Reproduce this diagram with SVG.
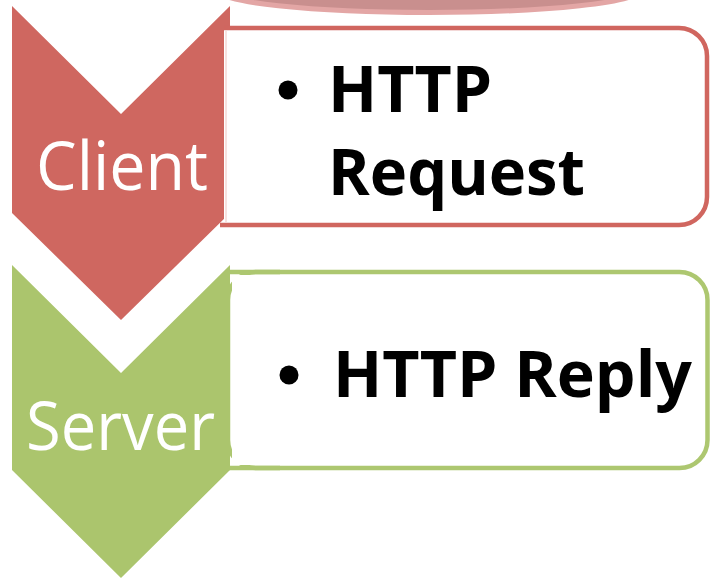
<svg xmlns="http://www.w3.org/2000/svg" width="710" height="578" viewBox="0 0 710 578">
  <style>
    .label { font-family: "Open Sans", "Noto Sans", sans-serif; fill: #ffffff; font-size: 67px; }
    .item { font-family: "Open Sans", "Noto Sans", sans-serif; font-weight: bold; fill: #000000; font-size: 64px; }
    .red { fill: #cf6760; }
    .green { fill: #abc56d; }
    .box { fill: #ffffff; }
  </style>
  <rect width="710" height="578" fill="#ffffff"/>

  <!-- flat ellipse peeking in at the top edge -->
  <g id="top-shape">
    <ellipse cx="429" cy="-10.5" rx="213" ry="23" fill="#c98f8e" stroke="#e3a6a5" stroke-width="5"/>
  </g>

  <!-- client step -->
  <g id="client">
    <path class="red" d="M12,6 L121,114 L230,6 L230,213 L121,320 L12,213 Z"/>
    <text class="label" x="36" y="190" textLength="172" lengthAdjust="spacingAndGlyphs">Client</text>
  </g>
  <g id="client-detail">
    <rect class="box" x="224" y="28" width="484" height="197"/>
    <path d="M224,28 H679 A28,28 0 0 1 707,56 V197 A28,28 0 0 1 679,225 H220" fill="none" stroke="#d0665f" stroke-width="4.5"/>
    <line x1="226" y1="30" x2="226" y2="223" stroke="#f4d8d6" stroke-width="1.5"/>
    <circle cx="288" cy="90" r="9.5" fill="#000000"/>
    <text class="item" x="328" y="112" textLength="164" lengthAdjust="spacingAndGlyphs">HTTP</text>
    <text class="item" x="328" y="195" textLength="257" lengthAdjust="spacingAndGlyphs">Request</text>
  </g>

  <!-- server step -->
  <g id="server-detail">
    <rect class="box" x="228" y="272" width="479.5" height="196" rx="28" ry="28" stroke="#adc770" stroke-width="4.5"/>
    <rect class="box" x="232" y="275" width="40" height="190"/>
    <line x1="228" y1="272" x2="280" y2="272" stroke="#adc770" stroke-width="4.5"/>
    <line x1="228" y1="468" x2="280" y2="468" stroke="#adc770" stroke-width="4.5"/>
    <circle cx="289" cy="375" r="9.5" fill="#000000"/>
    <text class="item" x="333" y="397" textLength="359" lengthAdjust="spacingAndGlyphs">HTTP Reply</text>
  </g>
  <g id="server">
    <path class="green" d="M12,265 L121,373 L230,265 L230,470 L121,578 L12,470 Z"/>
    <text class="label" x="26" y="450" textLength="189" lengthAdjust="spacingAndGlyphs">Server</text>
  </g>
</svg>
